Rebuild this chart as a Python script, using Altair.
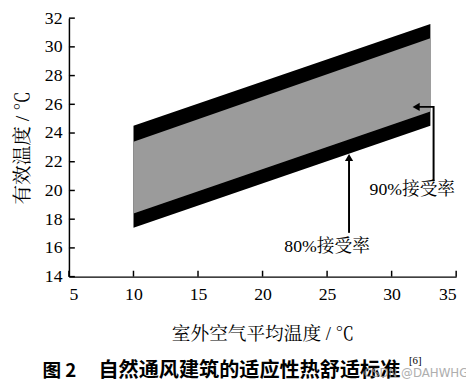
import altair as alt
import pandas as pd

# Band edges (outdoor mean temperature -> effective temperature)
x_ends = [10, 33]
upper80 = [24.5, 31.6]
lower80 = [17.4, 24.5]
upper90 = [23.4, 30.6]
lower90 = [18.4, 25.5]

x_ticks = [5, 10, 15, 20, 25, 30, 35]
y_ticks = [14, 16, 18, 20, 22, 24, 26, 28, 30, 32]

# Annotation arrows (data coordinates)
arrow90_x = [33.25, 33.25, 31.9]
arrow90_y = [20.65, 25.82, 25.82]
arrow80_x = [26.7, 26.7]
arrow80_y = [17.05, 22.3]
label_text = ["90%接受率", "80%接受率"]
label_x = [31.6, 25.0]
label_y = [20.0, 16.03]

W, H = 394, 263
SERIF = "Liberation Serif, Noto Serif CJK SC, Noto Sans CJK SC"

band = pd.DataFrame({"x": x_ends, "u80": upper80, "l80": lower80,
                     "u90": upper90, "l90": lower90})

xs = alt.Scale(domain=[5, 35], nice=False, zero=False)
ys = alt.Scale(domain=[14, 32], nice=False, zero=False)

xaxis = alt.Axis(values=x_ticks, ticks=False, tickSize=0, grid=False, domainColor="black",
                 domainWidth=1.5, labelFont=SERIF, labelFontSize=18, labelColor="black",
                 labelOverlap=False, labelPadding=9, title="室外空气平均温度 / ℃",
                 titleFont=SERIF, titleFontSize=19, titleFontWeight="normal",
                 titleColor="black", titlePadding=22)
yaxis = alt.Axis(values=y_ticks, ticks=False, tickSize=0, grid=False, domainColor="black",
                 domainWidth=1.5, labelFont=SERIF, labelFontSize=18, labelColor="black",
                 labelOverlap=False, labelPadding=7, title="有效温度 / ℃", titleFont=SERIF,
                 titleFontSize=20, titleFontWeight="normal", titleColor="black",
                 titlePadding=12)


def X(f):
    return alt.X(f, scale=xs, axis=xaxis)


def Y(f):
    return alt.Y(f, scale=ys, axis=yaxis)


outer = alt.Chart(band).mark_area(color="black").encode(
    x=X("x:Q"), y=Y("u80:Q"), y2="l80:Q",
)
inner = alt.Chart(band).mark_area(color="#9b9b9b").encode(
    x=X("x:Q"), y=Y("u90:Q"), y2="l90:Q"
)

xt = pd.DataFrame({"v": x_ticks})
yt = pd.DataFrame({"v": y_ticks})
xtick = alt.Chart(xt).mark_rule(color="black", strokeWidth=1.5).encode(
    x=X("v:Q"), y=alt.value(H), y2=alt.value(H - 6)
)
ytick = alt.Chart(yt).mark_rule(color="black", strokeWidth=1.5).encode(
    y=Y("v:Q"), x=alt.value(0), x2=alt.value(6)
)

a90 = pd.DataFrame({"x": arrow90_x, "y": arrow90_y, "o": [0, 1, 2]})
a80 = pd.DataFrame({"x": arrow80_x, "y": arrow80_y, "o": [0, 1]})
line90 = alt.Chart(a90).mark_line(color="black", strokeWidth=2).encode(
    x=X("x:Q"), y=Y("y:Q"), order="o:Q")
line80 = alt.Chart(a80).mark_line(color="black", strokeWidth=2).encode(
    x=X("x:Q"), y=Y("y:Q"), order="o:Q")
head90 = alt.Chart(a90.tail(1)).mark_point(shape="triangle-left", filled=True, color="black",
                                          size=70, opacity=1).encode(x=X("x:Q"), y=Y("y:Q"))
head80 = alt.Chart(a80.tail(1)).mark_point(shape="triangle-up", filled=True, color="black",
                                          size=70, opacity=1).encode(x=X("x:Q"), y=Y("y:Q"))

labels = alt.Chart(pd.DataFrame({"t": label_text, "x": label_x, "y": label_y})).mark_text(
    font=SERIF, fontSize=18, color="black").encode(x=X("x:Q"), y=Y("y:Q"), text="t:N")

cap1 = alt.Chart(pd.DataFrame({"t": ["图 2"]})).mark_text(
    font="Noto Sans CJK SC", fontSize=19, fontWeight="bold", align="left", color="black"
).encode(x=alt.value(-27), y=alt.value(H + 96), text="t:N")
cap2 = alt.Chart(pd.DataFrame({"t": ["自然通风建筑的适应性热舒适标准"]})).mark_text(
    font="Noto Sans CJK SC", fontSize=20.5, fontWeight="bold", align="left", color="black"
).encode(x=alt.value(30), y=alt.value(H + 96), text="t:N")
cap3 = alt.Chart(pd.DataFrame({"t": ["[6]"]})).mark_text(
    font=SERIF, fontSize=11, align="left", color="black"
).encode(x=alt.value(346), y=alt.value(H + 86), text="t:N")
wm = alt.Chart(pd.DataFrame({"t": ["CSDN @DAHWHG"]})).mark_text(
    font="DejaVu Sans", fontSize=12, align="left", color="#9a9a9a", opacity=0.8
).encode(x=alt.value(300), y=alt.value(H + 98), text="t:N")

chart = alt.layer(outer, inner, xtick, ytick, line90, line80, head90, head80,
                  labels, cap1, cap2, cap3, wm).properties(
    width=W, height=H,
    autosize=alt.AutoSizeParams(type="none"),
    padding={"left": 62, "top": 7, "right": 10, "bottom": 110},
    background="white",
).configure_view(stroke=None).configure_axis(labelOverlap=False)

chart.save("out.html", embed_options={"renderer": "svg", "actions": False})
